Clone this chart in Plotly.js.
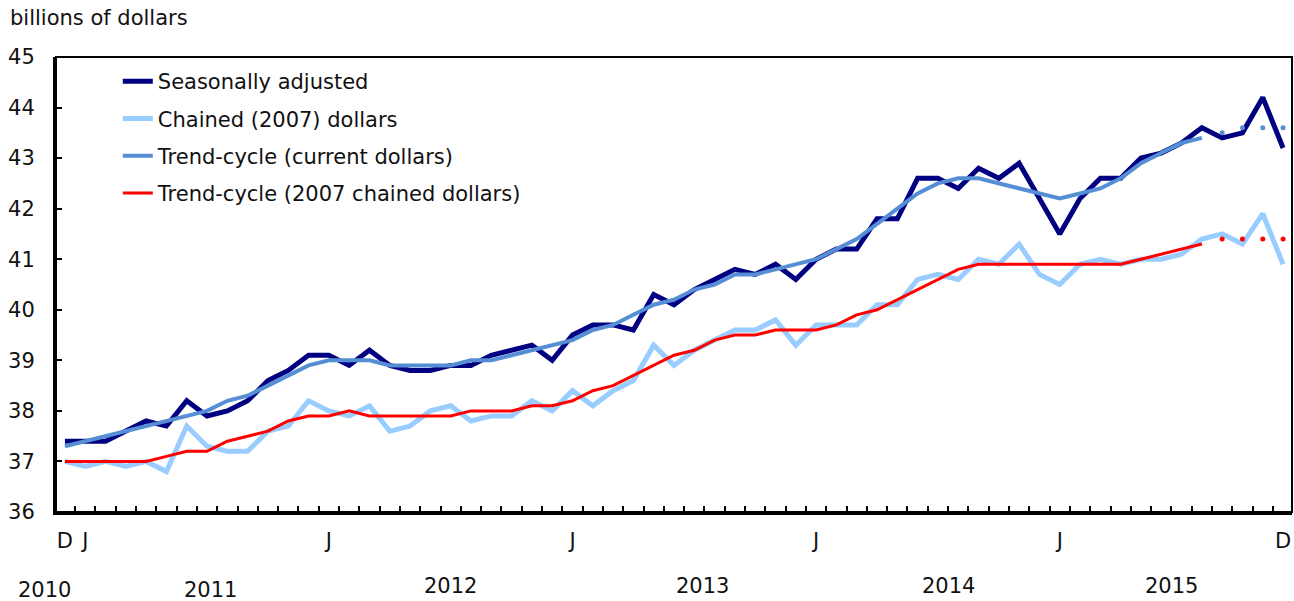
<!DOCTYPE html>
<html>
<head>
<meta charset="utf-8">
<script src="https://cdn.plot.ly/plotly-3.0.1.min.js"></script>
<style>html,body{margin:0;padding:0;background:#fff;}#chart{width:1294px;height:601px;}</style>
</head>
<body>
<div id="chart"></div>
<script>
// Months: Dec 2010 .. Dec 2015 (61 points)
const monthNames = ['J','F','M','A','M','J','J','A','S','O','N','D'];
const months = ['Dec 2010'];
for (let y = 2011; y <= 2015; y++) for (let m = 0; m < 12; m++) months.push(monthNames[m] + ' ' + y);

const seasonallyAdjusted = [
  37.4,37.4,37.4,37.6,37.8,37.7,38.2,37.9,38.0,38.2,38.6,38.8,
  39.1,39.1,38.9,39.2,38.9,38.8,38.8,38.9,38.9,39.1,39.2,39.3,
  39.0,39.5,39.7,39.7,39.6,40.3,40.1,40.4,40.6,40.8,40.7,40.9,
  40.6,41.0,41.2,41.2,41.8,41.8,42.6,42.6,42.4,42.8,42.6,42.9,
  42.2,41.5,42.2,42.6,42.6,43.0,43.1,43.3,43.6,43.4,43.5,44.2,43.2
];
const chained2007 = [
  37.0,36.9,37.0,36.9,37.0,36.8,37.7,37.3,37.2,37.2,37.6,37.7,
  38.2,38.0,37.9,38.1,37.6,37.7,38.0,38.1,37.8,37.9,37.9,38.2,
  38.0,38.4,38.1,38.4,38.6,39.3,38.9,39.2,39.4,39.6,39.6,39.8,
  39.3,39.7,39.7,39.7,40.1,40.1,40.6,40.7,40.6,41.0,40.9,41.3,
  40.7,40.5,40.9,41.0,40.9,41.0,41.0,41.1,41.4,41.5,41.3,41.9,40.9
];
const trendCurrent = [
  37.3,37.4,37.5,37.6,37.7,37.8,37.9,38.0,38.2,38.3,38.5,38.7,
  38.9,39.0,39.0,39.0,38.9,38.9,38.9,38.9,39.0,39.0,39.1,39.2,
  39.3,39.4,39.6,39.7,39.9,40.1,40.2,40.4,40.5,40.7,40.7,40.8,
  40.9,41.0,41.2,41.4,41.7,42.0,42.3,42.5,42.6,42.6,42.5,42.4,
  42.3,42.2,42.3,42.4,42.6,42.9,43.1,43.3,43.4
];
const trendCurrentLast = [43.5,43.6,43.6,43.6];
const trendChained = [
  37.0,37.0,37.0,37.0,37.0,37.1,37.2,37.2,37.4,37.5,37.6,37.8,
  37.9,37.9,38.0,37.9,37.9,37.9,37.9,37.9,38.0,38.0,38.0,38.1,
  38.1,38.2,38.4,38.5,38.7,38.9,39.1,39.2,39.4,39.5,39.5,39.6,
  39.6,39.6,39.7,39.9,40.0,40.2,40.4,40.6,40.8,40.9,40.9,40.9,
  40.9,40.9,40.9,40.9,40.9,41.0,41.1,41.2,41.3
];
const trendChainedLast = [41.4,41.4,41.4,41.4];

const monthTickIdx = [0,1,13,25,37,49,60];
const monthTickText = ['D','J','J','J','J','J','D'];
const yearLabels = ['2010','2011','2012','2013','2014','2015'];
const yearLabelPos = [-1.0,7.17,19.0,31.4,43.5,54.5];

const xi = months.map((_, i) => i);
const FONT = '"DejaVu Sans", Verdana, sans-serif';
const xRange = [-0.44, 60.44];

const traces = [
  {x: xi, y: seasonallyAdjusted, name: 'Seasonally adjusted', mode: 'lines',
   line: {color: '#000080', width: 5}, legendgroup: 'a'},
  {x: xi, y: chained2007, name: 'Chained (2007) dollars', mode: 'lines',
   line: {color: '#99CCFF', width: 5}, legendgroup: 'b'},
  {x: xi.slice(0, trendCurrent.length), y: trendCurrent, name: 'Trend-cycle (current dollars)', mode: 'lines',
   line: {color: '#558ED5', width: 4}, legendgroup: 'c'},
  {x: xi.slice(trendCurrent.length), y: trendCurrentLast, mode: 'markers', showlegend: false,
   marker: {color: '#558ED5', size: 5}, legendgroup: 'c'},
  {x: xi.slice(0, trendChained.length), y: trendChained, name: 'Trend-cycle (2007 chained dollars)', mode: 'lines',
   line: {color: '#FF0000', width: 3}, legendgroup: 'd'},
  {x: xi.slice(trendChained.length), y: trendChainedLast, mode: 'markers', showlegend: false,
   marker: {color: '#FF0000', size: 5}, legendgroup: 'd'}
];

const minorVals = [];
for (let i = 0; i < 60; i++) minorVals.push(i + 0.5);

const annotations = yearLabels.map((t, i) => ({
  text: t, x: (yearLabelPos[i] - xRange[0]) / (xRange[1] - xRange[0]), xref: 'paper',
  y: i < 2 ? -0.172 : -0.163, yref: 'paper',
  xanchor: 'center', yanchor: 'middle', showarrow: false,
  font: {family: FONT, size: 21, color: '#111'}
}));

const layout = {
  width: 1294, height: 601,
  margin: {l: 56, r: 2, t: 57, b: 89},
  paper_bgcolor: '#fff', plot_bgcolor: '#fff',
  font: {family: FONT, size: 21, color: '#111'},
  title: {text: 'billions of dollars', x: 10/1294, xref: 'container', xanchor: 'left',
          y: 1 - 18/601, yref: 'container', yanchor: 'middle',
          font: {family: FONT, size: 21, color: '#111'}},
  showlegend: true,
  legend: {x: 0.05, xanchor: 'left', y: 1 - 4/455, yanchor: 'top', bgcolor: 'rgba(0,0,0,0)',
           font: {family: FONT, size: 21, color: '#111'}, tracegroupgap: 7, traceorder: 'grouped'},
  xaxis: {range: xRange, tickmode: 'array', tickvals: monthTickIdx, ticktext: monthTickText,
          ticks: '', showgrid: false, zeroline: false, showline: true, linewidth: 3, linecolor: '#000',
          ticklabelstandoff: 8, tickfont: {family: FONT, size: 21, color: '#111'},
          minor: {tickmode: 'array', tickvals: minorVals, ticks: 'inside', ticklen: 6, tickwidth: 2, tickcolor: '#000', showgrid: false}},
  yaxis: {range: [36, 45], tickmode: 'array', tickvals: [36,37,38,39,40,41,42,43,44,45],
          ticks: 'inside', ticklen: 6, tickwidth: 2, tickcolor: '#000',
          showgrid: false, zeroline: false, showline: true, linewidth: 3, linecolor: '#000',
          ticklabelstandoff: 14, tickfont: {family: FONT, size: 21, color: '#111'}},
  shapes: [{type: 'rect', xref: 'paper', yref: 'paper', x0: 0, x1: 1, y0: 0, y1: 1,
            line: {color: '#000', width: 2}, fillcolor: 'rgba(0,0,0,0)', layer: 'above'}],
  annotations: annotations
};

Plotly.newPlot('chart', traces, layout, {displayModeBar: false, staticPlot: true});
</script>
</body>
</html>
